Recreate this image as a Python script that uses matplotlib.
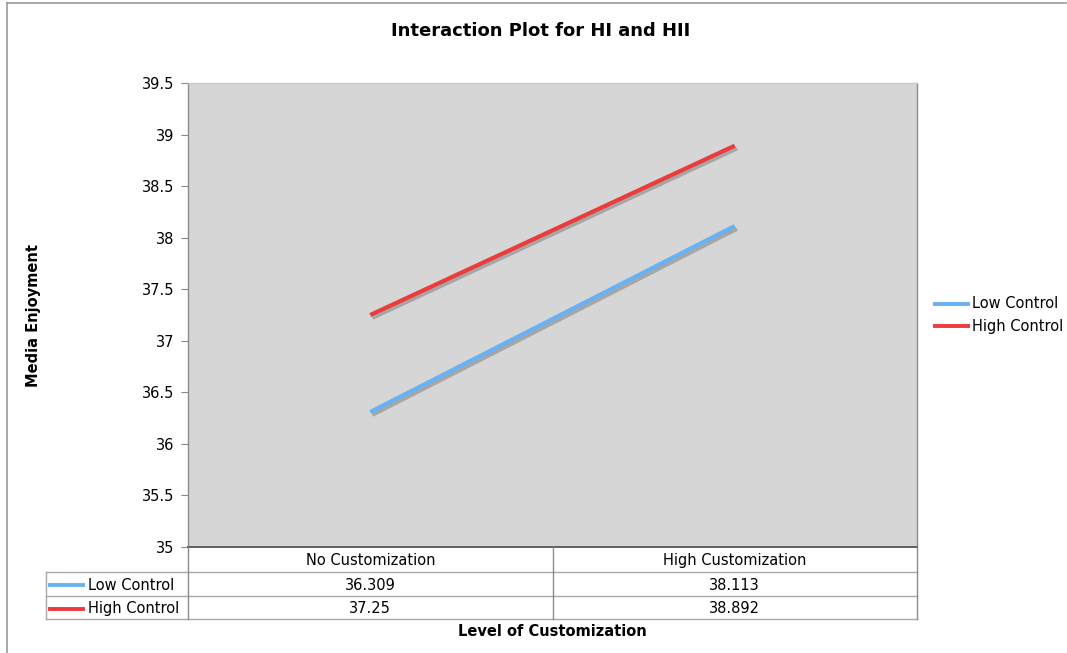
import matplotlib.pyplot as plt
import matplotlib.patheffects as pe
from matplotlib.lines import Line2D

plt.rcParams["font.family"] = ["DejaVu Sans"]

# Interaction of customization level and control on media enjoyment
levels = ["No Customization", "High Customization"]
groups = ["Low Control", "High Control"]
low_control = [36.309, 38.113]
high_control = [37.25, 38.892]
group_colors = ["#66B2F5", "#EC3B3B"]

yticks = [35, 35.5, 36, 36.5, 37, 37.5, 38, 38.5, 39, 39.5]
ytick_labels = ["35", "35.5", "36", "36.5", "37", "37.5", "38", "38.5", "39", "39.5"]

W, H = 1067, 653
fig = plt.figure(figsize=(W / 100, H / 100), dpi=100)


def fx(px):
    return px / W


def fy(py):
    return 1 - py / H


# plot area in pixel terms
left, right, top, bottom = 188, 917, 83, 547
ax = fig.add_axes([fx(left), fy(bottom), fx(right - left), fy(top) - fy(bottom)])
ax.set_facecolor("#D6D6D6")

shadow = [pe.SimpleLineShadow(offset=(1.5, -2), shadow_color="#9A9A9A", alpha=0.8),
          pe.Normal()]
x = list(range(len(levels)))
for vals, color, name in zip([low_control, high_control], group_colors, groups):
    ax.plot(x, vals, color=color, lw=3.0, solid_capstyle="butt",
            path_effects=shadow, label=name)

ax.set_xlim(-0.5, len(levels) - 0.5)
ax.set_ylim(35, 39.5)
ax.set_yticks(yticks)
ax.set_yticklabels(ytick_labels, fontsize=10.5)
ax.set_xticks([])
ax.tick_params(axis="y", length=5, color="#888888", pad=5)
for side in ["left", "right", "top"]:
    ax.spines[side].set_color("#8C8C8C")
    ax.spines[side].set_linewidth(1.0)
ax.spines["top"].set_color("#C8C8C8")
ax.spines["bottom"].set_color("#555555")
ax.spines["bottom"].set_linewidth(1.3)

# data table under the plot
grid = "#A8A8A8"
row_edges = [547, 572, 596, 619]
label_left = 46
col_edges = [left, (left + right) / 2, right]


def hline(y, x0, x1, color=grid, lw=1.0):
    fig.add_artist(Line2D([fx(x0), fx(x1)], [fy(y), fy(y)], color=color, lw=lw))


def vline(xp, y0, y1, color=grid, lw=1.0):
    fig.add_artist(Line2D([fx(xp), fx(xp)], [fy(y0), fy(y1)], color=color, lw=lw))


hline(row_edges[1], label_left, right)
hline(row_edges[2], label_left, right)
hline(row_edges[3], label_left, right)
vline(label_left, row_edges[1], row_edges[3])
for xp in col_edges:
    vline(xp, row_edges[0], row_edges[3], color="#8C8C8C")

for i, level in enumerate(levels):
    cx = (col_edges[i] + col_edges[i + 1]) / 2
    fig.text(fx(cx), fy((row_edges[0] + row_edges[1]) / 2 + 1), level,
             ha="center", va="center", fontsize=10.5)

for r, (vals, color, name) in enumerate(zip([low_control, high_control],
                                            group_colors, groups)):
    cy = (row_edges[r + 1] + row_edges[r + 2]) / 2 + 1
    fig.add_artist(Line2D([fx(50), fx(83)], [fy(cy), fy(cy)], color=color, lw=2.8))
    fig.text(fx(88), fy(cy), name, ha="left", va="center", fontsize=10.5)
    for i, v in enumerate(vals):
        cx = (col_edges[i] + col_edges[i + 1]) / 2
        fig.text(fx(cx), fy(cy), f"{v:g}", ha="center", va="center", fontsize=10.5)

# legend on the right
for r, (color, name) in enumerate(zip(group_colors, groups)):
    ly = 304 + r * 22
    fig.add_artist(Line2D([fx(935), fx(968)], [fy(ly), fy(ly)], color=color, lw=2.8))
    fig.text(fx(972), fy(ly), name, ha="left", va="center", fontsize=10.5)

fig.text(fx(541), fy(31), "Interaction Plot for HI and HII", ha="center",
         va="center", fontsize=13, fontweight="bold")
fig.text(fx(552), fy(632), "Level of Customization", ha="center",
         va="center", fontsize=10.5, fontweight="bold")
fig.text(fx(34), fy(315), "Media Enjoyment", ha="center", va="center",
         rotation=90, fontsize=10.5, fontweight="bold")

# outer frame of the chart
fig.add_artist(Line2D([fx(7), fx(1066)], [fy(3), fy(3)], color="#999999", lw=1.2))
fig.add_artist(Line2D([fx(7), fx(7)], [fy(3), fy(653)], color="#999999", lw=1.2))

fig.savefig("out.png", dpi=100)
